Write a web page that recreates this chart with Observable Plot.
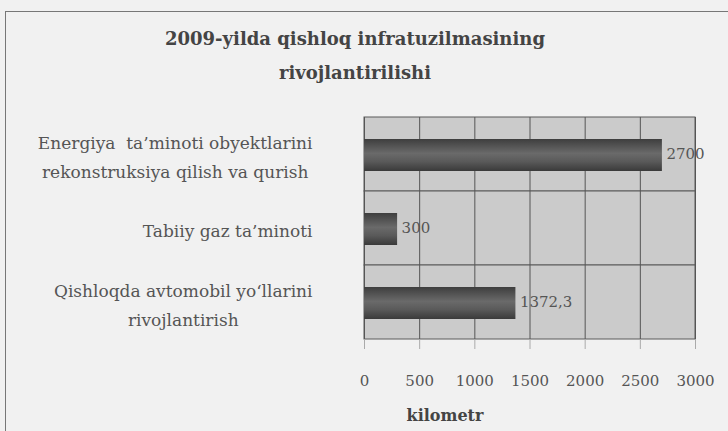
<!DOCTYPE html>
<html>
<head>
<meta charset="utf-8">
<script src="https://cdn.jsdelivr.net/npm/d3@7"></script>
<script src="https://cdn.jsdelivr.net/npm/@observablehq/plot@0.6"></script>
<style>
  html, body { margin: 0; padding: 0; background: #efefef; }
  #wrap { position: relative; width: 728px; height: 431px; overflow: hidden; background: #f1f1f1; font-family: "DejaVu Serif", serif; color: #333; }
  #frame { position: absolute; left: 5px; top: 11px; width: 740px; height: 440px; border: 1.5px solid #777; box-sizing: border-box; }
  #title { position: absolute; left: 0; top: 22px; width: 710px; text-align: center; font-weight: bold; font-size: 18px; line-height: 34px; color: #444; }
  #chart { position: absolute; left: 0; top: 95px; }
  #xlabel { position: absolute; left: 395px; top: 406px; width: 100px; text-align: center; font-weight: bold; font-size: 16px; color: #444; }
  #chart svg, #chart svg text { font-family: "DejaVu Serif", serif !important; }
</style>
</head>
<body>
<div id="wrap">
  <div id="frame"></div>
  <div id="title">2009-yilda qishloq infratuzilmasining<br>rivojlantirilishi</div>
  <div id="chart"></div>
  <div id="xlabel">kilometr</div>
</div>
<script>
const categories = [
  "Energiya  ta\u2019minoti obyektlarini\nrekonstruksiya qilish va qurish",
  "Tabiiy gaz ta\u2019minoti",
  "Qishloqda avtomobil yo\u2018llarini\nrivojlantirish"
];
const values = [2700, 300, 1372.3];
const valueLabels = ["2700", "300", "1372,3"];
const xTicks = [0, 500, 1000, 1500, 2000, 2500, 3000];

const data = categories.map((c, i) => ({cat: c, value: values[i], label: valueLabels[i]}));

const plot = Plot.plot({
  width: 728,
  height: 336,
  marginLeft: 364,
  marginRight: 33,
  marginTop: 22,
  marginBottom: 92,
  style: {fontSize: "16px", color: "#555", background: "transparent", overflow: "visible"},
  x: {domain: [0, 3000], ticks: xTicks, label: null},
  y: {domain: categories, padding: 0, label: null},
  marks: [
    Plot.cell(categories, {y: d => d, fill: "#cbcbcb", stroke: "#5a5a5a", strokeWidth: 1}),
    Plot.gridX(xTicks, {stroke: "#555", strokeOpacity: 1, strokeWidth: 1}),
    Plot.barX(data, {y: "cat", x: "value", fill: "url(#barGrad)", insetTop: 22, insetBottom: 20}),
    Plot.text(data, {y: "cat", x: "value", text: "label", textAnchor: "start", dx: 4, fill: "#555", fontSize: 15}),
    Plot.axisY({tickSize: 0, tickPadding: 52, lineHeight: 1.65, fontSize: 17, textAnchor: "end", fill: "#555"}),
    Plot.axisX({ticks: xTicks, tickSize: 10, stroke: "#aaa", tickPadding: 26, fontSize: 15, fill: "#555", label: null, tickFormat: d => String(d)})
  ]
});

const defs = document.createElementNS("http://www.w3.org/2000/svg", "defs");
defs.innerHTML = `<linearGradient id="barGrad" x1="0" y1="0" x2="0" y2="1">
  <stop offset="0" stop-color="#3e3e3e"/>
  <stop offset="0.45" stop-color="#6a6a6a"/>
  <stop offset="0.7" stop-color="#5a5a5a"/>
  <stop offset="1" stop-color="#3a3a3a"/>
</linearGradient>`;
plot.insertBefore(defs, plot.firstChild);
document.getElementById("chart").appendChild(plot);

// Center wrapped multi-line category labels within their right-aligned block (as Excel does)
plot.querySelectorAll('g[aria-label="y-axis tick label"] text').forEach(t => {
  const spans = t.querySelectorAll("tspan");
  if (spans.length < 2) return;
  const w = Math.max(...Array.from(spans, s => s.getComputedTextLength()));
  t.setAttribute("text-anchor", "middle");
  t.setAttribute("transform", (t.getAttribute("transform") || "") + ` translate(${-w / 2},0)`);
});
</script>
</body>
</html>
